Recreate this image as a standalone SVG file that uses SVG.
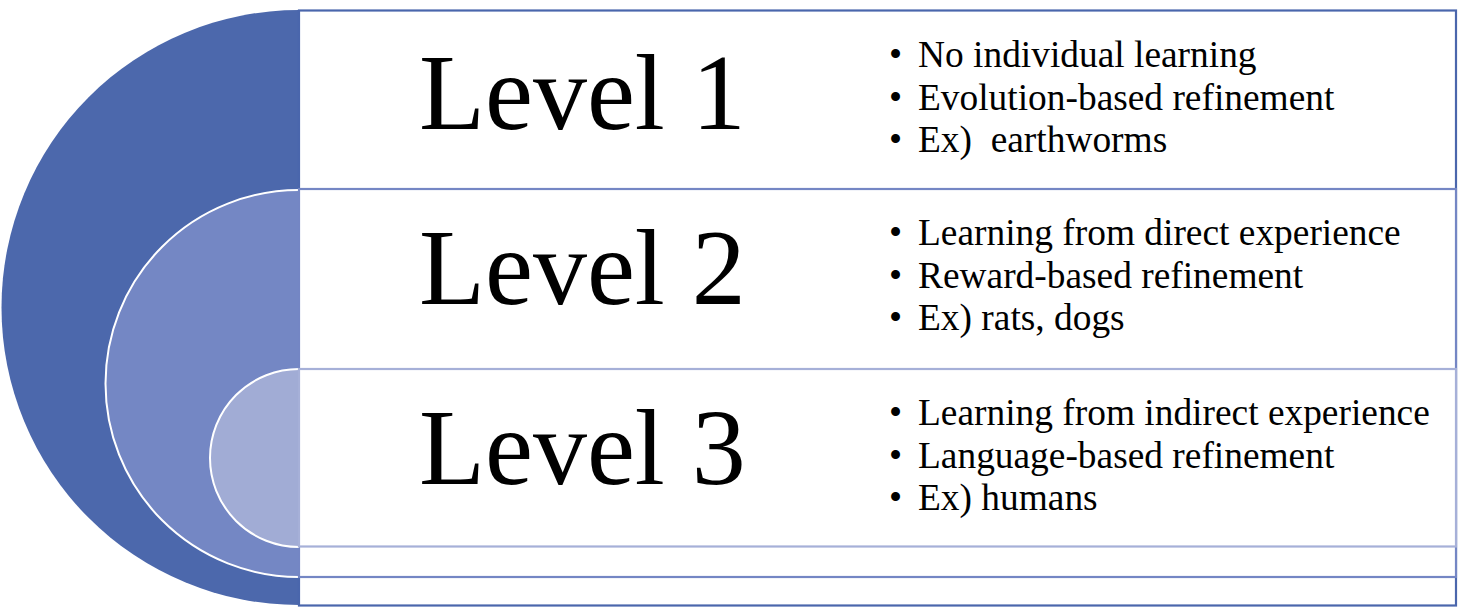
<svg xmlns="http://www.w3.org/2000/svg" width="1458" height="608" viewBox="0 0 1458 608">
<style>
.lvl{font-family:"Liberation Serif","Times New Roman",serif;font-size:108px;fill:#000}
.bul{font-family:"Liberation Serif","Times New Roman",serif;font-size:37.4px;fill:#000}
.arc{stroke:#fff;stroke-width:2}
.box{fill:#fff;stroke-width:2.2}
</style>
<rect x="0" y="0" width="1458" height="608" fill="#fff"/>
<g id="level1">
<path d="M299,10 A297.5,297.5 0 0 0 299,605 Z" fill="#4C68AC"/>
<rect class="box" x="299" y="10.5" width="1157" height="595" stroke="#4A66AC"/>
<text class="lvl" x="419" y="129">Level 1</text>
<text class="bul" x="889" y="67">•</text><text class="bul" x="918" y="67">No individual learning</text>
<text class="bul" x="889" y="110">•</text><text class="bul" x="918" y="110">Evolution-based refinement</text>
<text class="bul" x="889" y="152">•</text><text class="bul" x="918" y="152">Ex)&#160; earthworms</text>
</g>
<g id="level2">
<path class="arc" d="M299,190 A193.5,193.5 0 0 0 299,577" fill="#7487C4"/>
<rect class="box" x="299" y="189" width="1157" height="388" stroke="#7486C4"/>
<text class="lvl" x="419" y="304">Level 2</text>
<text class="bul" x="889" y="245">•</text><text class="bul" x="918" y="245">Learning from direct experience</text>
<text class="bul" x="889" y="288">•</text><text class="bul" x="918" y="288">Reward-based refinement</text>
<text class="bul" x="889" y="330">•</text><text class="bul" x="918" y="330">Ex) rats, dogs</text>
</g>
<g id="level3">
<path class="arc" d="M299,369 A89,89 0 0 0 299,547" fill="#A1ACD5"/>
<rect class="box" x="299" y="369" width="1157" height="177.5" stroke="#A6B0D8"/>
<text class="lvl" x="419" y="484">Level 3</text>
<text class="bul" x="889" y="425">•</text><text class="bul" x="918" y="425">Learning from indirect experience</text>
<text class="bul" x="889" y="468">•</text><text class="bul" x="918" y="468">Language-based refinement</text>
<text class="bul" x="889" y="510">•</text><text class="bul" x="918" y="510">Ex) humans</text>
</g>
<g id="connectors"></g>
</svg>
